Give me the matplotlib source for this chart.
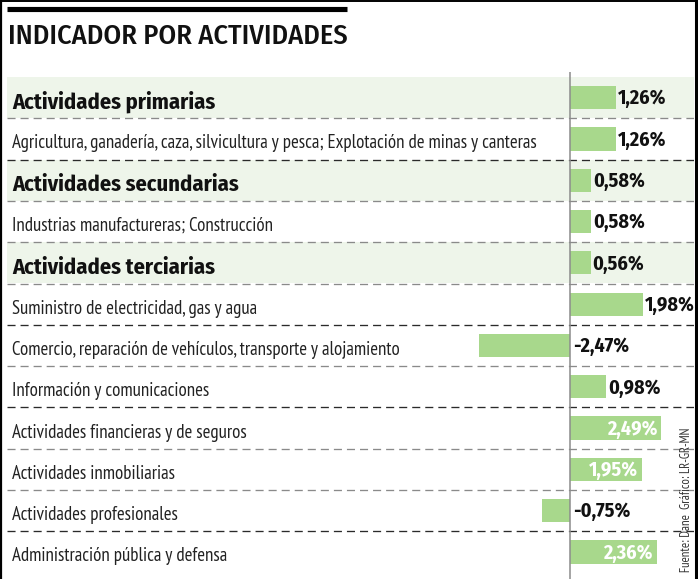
import matplotlib
matplotlib.use("Agg")
import matplotlib.pyplot as plt
import matplotlib.transforms as mtransforms
from matplotlib.lines import Line2D
from matplotlib import font_manager as fm

available = {f.name for f in fm.fontManager.ttflist}


def pick(cands):
    return [next((f for f in cands if f in available), "DejaVu Sans"), "DejaVu Sans"]


fam_heavy = pick(["Fira Sans Condensed", "Roboto Condensed", "PT Sans Narrow"])
fam_light = pick(["PT Sans Narrow", "Fira Sans Condensed", "Roboto Condensed"])
plt.rcParams['font.family'] = fam_heavy
plt.rcParams['lines.scale_dashes'] = False

# ---- data ----
categories = [
    "Actividades primarias",
    "Agricultura, ganadería, caza, silvicultura y pesca; Explotación de minas y canteras",
    "Actividades secundarias",
    "Industrias manufactureras; Construcción",
    "Actividades terciarias",
    "Suministro de electricidad, gas y agua",
    "Comercio, reparación de vehículos, transporte y alojamiento",
    "Información y comunicaciones",
    "Actividades financieras y de seguros",
    "Actividades inmobiliarias",
    "Actividades profesionales",
    "Administración pública y defensa",
]
values = [1.26, 1.26, 0.58, 0.58, 0.56, 1.98, -2.47, 0.98, 2.49, 1.95, -0.75, 2.36]
is_group = [True, False, True, False, True, False, False, False, False, False, False, False]
label_inside = [False, False, False, False, False, False, False, False, True, True, False, True]
dark_separator = [False, True, False, False, False, True, False, True, False, False, True]

title = "INDICADOR POR ACTIVIDADES"
source = "Fuente: Dane  Gráfico: LR-GR-MN"

# ---- layout (pixels) ----
W, H = 698, 579
ax_left_px, ax_right_px = 7, 694
ax_top_px, ax_bot_px = 72, 579
zero_px = 570
px_per_unit = 36.7
row0_top_px = 77
row_h_px = 41.3

bar_color = "#a8d88c"
band_color = "#eef5ea"

fig = plt.figure(figsize=(W / 100, H / 100), dpi=100)
renderer = fig.canvas.get_renderer()


def fit_width(t, target_px):
    bb = t.get_window_extent(renderer)
    t.set_fontsize(t.get_fontsize() * target_px / bb.width)


ax = fig.add_axes([ax_left_px / W, (H - ax_bot_px) / H,
                   (ax_right_px - ax_left_px) / W, (ax_bot_px - ax_top_px) / H])
ax.set_xlim(-(zero_px - ax_left_px) / px_per_unit, (ax_right_px - zero_px) / px_per_unit)
first_center = row0_top_px + row_h_px / 2
ax.set_ylim((ax_bot_px - first_center) / row_h_px, (ax_top_px - first_center) / row_h_px)
ax.axis("off")

n = len(categories)
rows = list(range(n))

# highlight bands
for i in rows:
    if is_group[i]:
        ax.axhspan(i - 0.5, i + 0.5, color=band_color, zorder=0, lw=0)

# separators
for i in range(n - 1):
    ax.axhline(i + 0.5, color="#2a2a2a" if dark_separator[i] else "#8a8a8a",
               lw=0.95, linestyle=(0, (5.8, 3.6)), zorder=1)

# bars
ax.barh(rows, values, height=0.56, color=bar_color, zorder=2, lw=0)

# zero line
ax.axvline(0, color="#8c8c8c", lw=1.1, zorder=3)

# category labels
trans = mtransforms.blended_transform_factory(ax.transAxes, ax.transData)
x_lab = 5 / (ax_right_px - ax_left_px)
probe_reg = ax.text(0, 0, categories[1], fontsize=12, family=fam_light, alpha=0)
fit_width(probe_reg, 523)
fs_reg = probe_reg.get_fontsize()
probe_reg.remove()
probe_bold = ax.text(0, 0, categories[0], fontsize=14, fontweight="bold", alpha=0)
fit_width(probe_bold, 203)
fs_bold = probe_bold.get_fontsize()
probe_bold.remove()
probe_val = ax.text(0, 0, "-2,47%", fontsize=13, fontweight="bold", alpha=0)
fit_width(probe_val, 56)
fs_val = probe_val.get_fontsize()
probe_val.remove()

for i, cat in enumerate(categories):
    if is_group[i]:
        ax.text(x_lab, i + 11.0 / row_h_px, cat, transform=trans, fontsize=fs_bold,
                fontweight="bold", va="baseline", ha="left", color="#111111")
    else:
        ax.text(x_lab, i + 9.5 / row_h_px, cat, transform=trans, fontsize=fs_reg,
                family=fam_light, va="baseline", ha="left", color="#222222")

# value labels
for i, v in enumerate(values):
    s = f"{v:.2f}".replace(".", ",") + "%"
    yb = i + 6.8 / row_h_px
    if label_inside[i]:
        ax.text(v - 4 / px_per_unit, yb, s, fontsize=fs_val, fontweight="bold",
                color="white", ha="right", va="baseline", zorder=4)
    elif v >= 0:
        ax.text(v + 2 / px_per_unit, yb, s, fontsize=fs_val, fontweight="bold",
                color="#111111", ha="left", va="baseline", zorder=4)
    else:
        ax.text(3 / px_per_unit, yb, s, fontsize=fs_val, fontweight="bold",
                color="#111111", ha="left", va="baseline", zorder=4)

# frame, title bar and title
fig.add_artist(Line2D([1 / W, 1 / W], [0, 1], color="black", lw=1.6))
fig.add_artist(Line2D([0, 1], [1 - 0.8 / H, 1 - 0.8 / H], color="black", lw=1.4))
fig.add_artist(Line2D([695.5 / W, 695.5 / W], [0, 1], color="black", lw=2.2))
fig.add_artist(Line2D([7 / W, 347 / W], [1 - 8.5 / H, 1 - 8.5 / H], color="black", lw=3.7,
                      solid_capstyle="butt"))
t_title = fig.text(8 / W, 1 - 43.5 / H, title, fontsize=18, ha="left", va="baseline",
                   color="#111111", fontweight="medium")
fit_width(t_title, 339)

t_src = fig.text(686.5 / W, 1 - 572 / H, source, rotation=90, fontsize=9, ha="center",
                 va="bottom", color="#333333", family=fam_light)
bb = t_src.get_window_extent(renderer)
t_src.set_fontsize(t_src.get_fontsize() * 145 / bb.height)

fig.savefig("out.png", dpi=100)
